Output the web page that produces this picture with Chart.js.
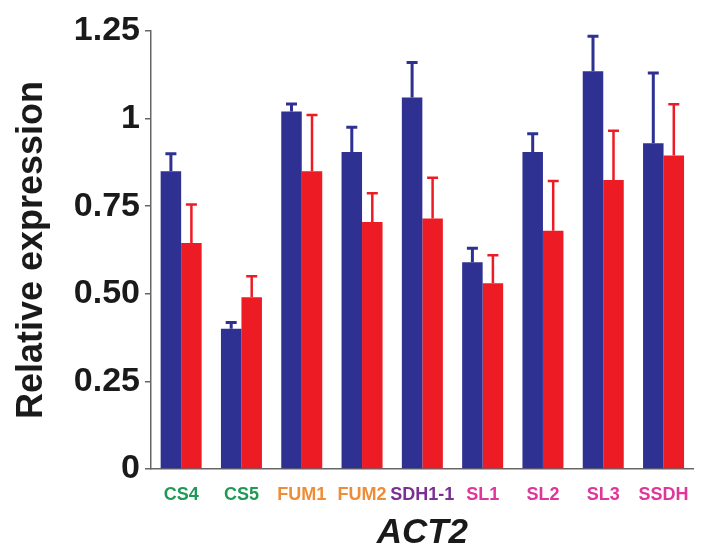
<!DOCTYPE html>
<html>
<head>
<meta charset="utf-8">
<script src="https://cdn.jsdelivr.net/npm/chart.js@4/dist/chart.umd.min.js"></script>
<style>
  html, body { margin: 0; padding: 0; background: #fff; }
  #wrap { width: 704px; height: 551px; }
</style>
</head>
<body>
<div id="wrap"><canvas id="chart" width="704" height="551"></canvas></div>
<script>
// data
const genes = ['CS4', 'CS5', 'FUM1', 'FUM2', 'SDH1-1', 'SL1', 'SL2', 'SL3', 'SSDH'];
const geneColors = ['#1f9a55', '#1f9a55', '#f08c34', '#f08c34', '#7b2f93', '#e0359b', '#e0359b', '#e0359b', '#e0359b'];
const blueValues = [0.85, 0.40, 1.02, 0.905, 1.06, 0.59, 0.905, 1.135, 0.93];
const blueErrors = [0.05, 0.018, 0.022, 0.07, 0.10, 0.04, 0.052, 0.10, 0.20];
const redValues = [0.645, 0.49, 0.85, 0.705, 0.715, 0.53, 0.68, 0.825, 0.895];
const redErrors = [0.11, 0.06, 0.16, 0.082, 0.116, 0.08, 0.142, 0.14, 0.146];
const yTickLabels = ['0', '0.25', '0.50', '0.75', '1', '1.25'];

const BLUE = '#2e3192';
const RED = '#ed1c24';

// draws the upper error bar with a cap on top of each bar
const errorBars = {
  id: 'errorBars',
  afterDatasetsDraw(chart) {
    const ctx = chart.ctx;
    const y = chart.scales.y;
    chart.data.datasets.forEach((ds, i) => {
      const meta = chart.getDatasetMeta(i);
      ctx.save();
      ctx.strokeStyle = ds.backgroundColor;
      ctx.lineWidth = ds.errWidth;
      meta.data.forEach((bar, j) => {
        const top = y.getPixelForValue(ds.data[j] + ds.errors[j]);
        ctx.beginPath();
        ctx.moveTo(bar.x, bar.y);
        ctx.lineTo(bar.x, top);
        ctx.moveTo(bar.x - 5.5, top);
        ctx.lineTo(bar.x + 5.5, top);
        ctx.stroke();
      });
      ctx.restore();
    });
  }
};

new Chart(document.getElementById('chart'), {
  type: 'bar',
  data: {
    labels: genes,
    datasets: [
      { data: blueValues, errors: blueErrors, backgroundColor: BLUE, errWidth: 3 },
      { data: redValues, errors: redErrors, backgroundColor: RED, errWidth: 2.5 }
    ]
  },
  options: {
    responsive: false,
    animation: false,
    layout: { padding: { top: 31, right: 8, left: 0, bottom: 0 } },
    categoryPercentage: 0.68,
    barPercentage: 1.0,
    plugins: { legend: { display: false }, tooltip: { enabled: false } },
    scales: {
      x: {
        grid: { display: false, drawTicks: false },
        border: { display: true, color: '#666', width: 1.5 },
        ticks: {
          color: geneColors,
          padding: 15,
          autoSkip: false,
          maxRotation: 0,
          font: { family: 'Liberation Sans, Arial', size: 18, weight: 'bold' }
        },
        title: {
          display: true,
          text: 'ACT2',
          color: '#1a1a1a',
          padding: { top: 0, bottom: 0 },
          font: { family: 'Liberation Sans, Arial', size: 35, weight: 'bold', style: 'italic', lineHeight: 1.0 }
        },
        afterFit(scale) { scale.height = 82; }
      },
      y: {
        min: 0,
        max: 1.25,
        grid: { drawOnChartArea: false, drawTicks: true, tickLength: 6, color: '#666', lineWidth: 1.5 },
        border: { display: true, color: '#666', width: 1.5 },
        ticks: {
          stepSize: 0.25,
          padding: 5,
          color: '#1a1a1a',
          font: { family: 'Liberation Sans, Arial', size: 34, weight: 'bold' },
          callback: (v, i) => yTickLabels[i]
        },
        title: {
          display: true,
          text: 'Relative expression',
          color: '#1a1a1a',
          padding: { top: 10, bottom: 0 },
          font: { family: 'Liberation Sans, Arial', size: 36, weight: 'bold' }
        },
        afterFit(scale) { scale.width = 151; }
      }
    }
  },
  plugins: [errorBars]
});
</script>
</body>
</html>
